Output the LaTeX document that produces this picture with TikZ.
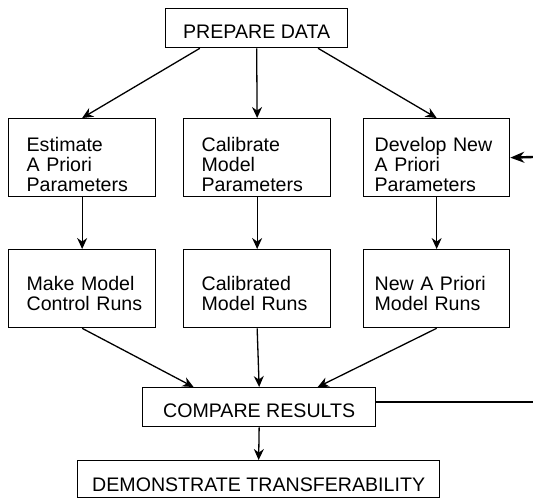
\documentclass[tikz,border=0pt]{standalone}
\usepackage{fontspec}
\setmainfont{Liberation Sans}
\usetikzlibrary{arrows.meta,calc}

\tikzset{
	box/.style={draw, line width=0.65pt, inner ysep=0pt, anchor=north west, font=\fontsize{9.8pt}{9.85pt}\selectfont},
	bigbox/.style={box, inner xsep=0pt, text height=14.8pt, text depth=4.7pt},
	rowbox/.style={box, align=left, inner xsep=9pt, text width=55.5pt},
	upper/.style={text height=16.5pt, text depth=22.5pt},
	lower/.style={text height=20.5pt, text depth=18.5pt},
	rightcol/.style={inner xsep=5.5pt, text width=62pt},
	arr/.style={line width=0.65pt, -{Stealth[length=5.5pt,width=5pt]}},
	fbline/.style={line width=1.2pt}
}

\begin{document}
\begin{tikzpicture}[x=0.5pt,y=-0.5pt]
				\useasboundingbox (0,0) rectangle (533,498);
				\node[bigbox, minimum width=91pt] (prep) at (165,8) {PREPARE DATA};
				\node[rowbox, upper] (est) at (8,118) {Estimate\\A~Priori\\Parameters};
				\node[rowbox, upper] (cal) at (183,118) {Calibrate\\Model\\Parameters};
				\node[rowbox, upper, rightcol] (dev) at (363,118) {Develop~New\\A~Priori\\Parameters};
				\node[rowbox, lower] (make) at (8,249) {Make~Model\\Control~Runs};
				\node[rowbox, lower] (calrun) at (183,249) {Calibrated\\Model~Runs};
				\node[rowbox, lower, rightcol] (newrun) at (363,249) {New~A~Priori\\Model~Runs};
				\node[bigbox, minimum width=116.5pt] (cmp) at (142,387) {COMPARE RESULTS};
				\node[bigbox, minimum width=181pt, text height=15.5pt, text depth=3pt] (dem) at (77,460) {DEMONSTRATE TRANSFERABILITY};
				\draw[arr] ($(prep.south west)!0.19!(prep.south east)$) -- (est.north);
				\draw[arr] (prep.south) -- (cal.north);
				\draw[arr] ($(prep.south west)!0.835!(prep.south east)$) -- (dev.north);
				\foreach \a/\b in {est/make, cal/calrun, dev/newrun}
					\draw[arr] (\a.south) -- (\b.north);
				\draw[arr] (make.south) -- ($(cmp.north west)!0.22!(cmp.north east)$);
				\draw[arr] (calrun.south) -- (cmp.north);
				\draw[arr] (newrun.south) -- ($(cmp.north west)!0.75!(cmp.north east)$);
				\draw[arr] (cmp.south) -- (dem.north);
				% feedback runs off the right edge
				\coordinate (fbout) at (533,402);
				\coordinate (fbin) at (533,157);
				\draw[fbline] (cmp.east |- fbout) -- (fbout);
				\draw[fbline, -{Stealth[length=7pt,width=5.5pt]}] (fbin) -- (dev.east);
			\end{tikzpicture}
\end{document}
